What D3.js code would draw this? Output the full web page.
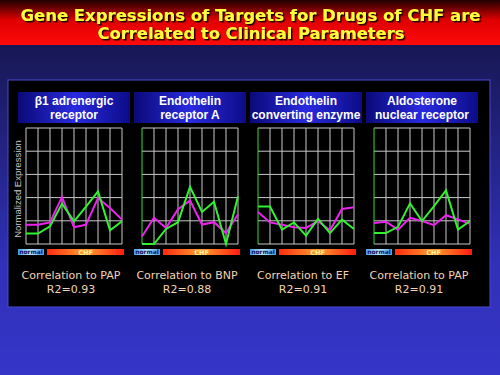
<!DOCTYPE html>
<html>
<head>
<meta charset="utf-8">
<script src="https://cdn.jsdelivr.net/npm/d3@7"></script>
<style>
  body { margin: 0; background: #000; }
  svg { display: block; }
</style>
</head>
<body>
<div id="chart"></div>
<script>
// chart values
const samples = ["N1", "N2", "C1", "C2", "C3", "C4", "C5", "C6", "C7"];
const titleLines1 = ["β1 adrenergic", "Endothelin", "Endothelin", "Aldosterone"];
const titleLines2 = ["receptor", "receptor A", "converting enzyme", "nuclear receptor"];
const magentaSeries = [
    [0.83, 0.83, 0.93, 2.03, 0.72, 0.83, 1.98, 1.55, 1.05],
    [0.32, 1.13, 0.69, 1.50, 1.87, 0.84, 0.94, 0.47, 1.28],
    [1.38, 0.93, 0.83, 0.72, 0.69, 0.98, 0.59, 1.51, 1.58],
    [0.91, 0.96, 0.62, 1.13, 0.99, 0.81, 1.24, 1.06, 0.87]
];
const greenSeries = [
    [0.45, 0.45, 0.76, 1.74, 0.98, 1.61, 2.27, 0.59, 0.98],
    [0.00, 0.00, 0.65, 0.94, 2.46, 1.38, 1.82, 0.00, 2.06],
    [1.62, 1.62, 0.62, 0.93, 0.36, 1.08, 0.47, 1.05, 0.65],
    [0.47, 0.47, 0.74, 1.75, 0.99, 1.63, 2.31, 0.62, 0.99]
];
const correlatedTo = ["PAP", "BNP", "EF", "PAP"];
const r2Values = ["0.93", "0.88", "0.91", "0.91"];
const yTicks = [0, 1, 2, 3, 4, 5];

const W = 500, H = 375;
const svg = d3.select("#chart").append("svg").attr("width", W).attr("height", H);
const defs = svg.append("defs");

// background gradients
const bg = defs.append("linearGradient").attr("id", "bg").attr("x1", 0).attr("y1", 0).attr("x2", 0).attr("y2", 1);
bg.append("stop").attr("offset", 0).attr("stop-color", "#121240");
bg.append("stop").attr("offset", 0.7).attr("stop-color", "#3030b8");
bg.append("stop").attr("offset", 1).attr("stop-color", "#3535c8");

const red = defs.append("linearGradient").attr("id", "red").attr("x1", 0).attr("y1", 0).attr("x2", 0).attr("y2", 1);
red.append("stop").attr("offset", 0).attr("stop-color", "#200000");
red.append("stop").attr("offset", 0.45).attr("stop-color", "#e00000");
red.append("stop").attr("offset", 1).attr("stop-color", "#ff0a0a");

const boxG = defs.append("linearGradient").attr("id", "box").attr("x1", 0).attr("y1", 0).attr("x2", 1).attr("y2", 0);
boxG.append("stop").attr("offset", 0).attr("stop-color", "#0a0a78");
boxG.append("stop").attr("offset", 0.5).attr("stop-color", "#2a2ae0");
boxG.append("stop").attr("offset", 1).attr("stop-color", "#0c0c88");

const chf = defs.append("linearGradient").attr("id", "chf").attr("x1", 0).attr("y1", 0).attr("x2", 1).attr("y2", 0);
chf.append("stop").attr("offset", 0).attr("stop-color", "#ff2a10");
chf.append("stop").attr("offset", 0.5).attr("stop-color", "#ffa030");
chf.append("stop").attr("offset", 1).attr("stop-color", "#ff1a10");

const norm = defs.append("linearGradient").attr("id", "norm").attr("x1", 0).attr("y1", 0).attr("x2", 1).attr("y2", 0);
norm.append("stop").attr("offset", 0).attr("stop-color", "#4aa0e0");
norm.append("stop").attr("offset", 0.5).attr("stop-color", "#b8e4ff");
norm.append("stop").attr("offset", 1).attr("stop-color", "#4aa0e0");

const shadow = defs.append("filter").attr("id", "shadow").attr("x", -0.1).attr("y", -0.3).attr("width", 1.2).attr("height", 1.6);
shadow.append("feDropShadow").attr("dx", 1.5).attr("dy", 1.5).attr("stdDeviation", 0.6)
    .attr("flood-color", "#000").attr("flood-opacity", 0.9);

svg.append("rect").attr("width", W).attr("height", H).attr("fill", "url(#bg)");
svg.append("rect").attr("width", W).attr("height", 45).attr("fill", "url(#red)");

// slide title
const title = svg.append("g").attr("filter", "url(#shadow)")
    .attr("font-family", "'DejaVu Sans', Verdana, sans-serif")
    .attr("font-weight", "bold").attr("font-size", 16).attr("fill", "#ffff3a")
    .attr("text-anchor", "middle");
title.append("text").attr("x", 250.5).attr("y", 20.5)
    .attr("textLength", 460).attr("lengthAdjust", "spacingAndGlyphs")
    .text("Gene Expressions of Targets for Drugs of CHF are");
title.append("text").attr("x", 251).attr("y", 39)
    .attr("textLength", 307).attr("lengthAdjust", "spacingAndGlyphs")
    .text("Correlated to Clinical Parameters");

// black panel
svg.append("rect").attr("x", 8).attr("y", 80).attr("width", 482).attr("height", 227)
    .attr("fill", "#000").attr("stroke", "#4848d0").attr("stroke-width", 1);

// y label
svg.append("text")
    .attr("transform", "translate(21,189) rotate(-90)")
    .attr("text-anchor", "middle")
    .attr("font-family", "'Liberation Sans', Arial, sans-serif")
    .attr("font-size", 9.5).attr("fill", "#c8c8c8")
    .text("Normalized Expression");

const plotW = 96, plotTop = 128, plotBottom = 244;
const lefts = [26, 142, 258, 374];

const y = d3.scaleLinear().domain([0, 5]).range([plotBottom, plotTop]);

lefts.forEach((left, i) => {
    const x = d3.scalePoint().domain(samples).range([left, left + plotW]);
    const cx = left + plotW / 2;
    const g = svg.append("g");

    // title box
    g.append("rect").attr("x", cx - 56).attr("y", 92).attr("width", 112).attr("height", 31)
        .attr("fill", "url(#box)");
    const tt = g.append("text").attr("text-anchor", "middle")
        .attr("font-family", "'Liberation Sans', Arial, sans-serif")
        .attr("font-weight", "bold").attr("font-size", 12).attr("fill", "#fff");
    tt.append("tspan").attr("x", cx).attr("y", 105).text(titleLines1[i]);
    tt.append("tspan").attr("x", cx).attr("y", 118.5).text(titleLines2[i]);

    // grid
    g.selectAll("line.h").data(yTicks).join("line").attr("class", "h")
        .attr("x1", left).attr("x2", left + plotW)
        .attr("y1", d => y(d)).attr("y2", d => y(d))
        .attr("stroke", "#c8c8c8").attr("stroke-width", 1);
    g.selectAll("line.v").data(samples).join("line").attr("class", "v")
        .attr("x1", d => x(d)).attr("x2", d => x(d))
        .attr("y1", plotTop).attr("y2", plotBottom)
        .attr("stroke", (d, j) => (j === 0 && i > 0) ? "#30e030" : "#c8c8c8")
        .attr("stroke-width", 1);

    const line = d3.line().x((d, j) => x(samples[j])).y(d => y(d));
    g.append("path").datum(magentaSeries[i]).attr("d", line)
        .attr("fill", "none").attr("stroke", "#ee22ee").attr("stroke-width", 2)
        .attr("stroke-linejoin", "miter");
    g.append("path").datum(greenSeries[i]).attr("d", line)
        .attr("fill", "none").attr("stroke", "#33f033").attr("stroke-width", 2)
        .attr("stroke-linejoin", "miter");

    // sample group bars
    g.append("rect").attr("x", left - 8).attr("y", 249).attr("width", 26).attr("height", 6)
        .attr("fill", "url(#norm)");
    g.append("text").attr("x", left + 5).attr("y", 254.3).attr("text-anchor", "middle")
        .attr("font-family", "'DejaVu Sans', sans-serif").attr("font-weight", "bold")
        .attr("font-size", 6).attr("fill", "#101060").text("normal");
    g.append("rect").attr("x", left + 21).attr("y", 249).attr("width", 77).attr("height", 6)
        .attr("fill", "url(#chf)");
    g.append("text").attr("x", left + 59.5).attr("y", 254.5).attr("text-anchor", "middle")
        .attr("font-family", "'DejaVu Sans', sans-serif").attr("font-weight", "bold")
        .attr("font-size", 6.5).attr("fill", "#fff0a0").text("CHF");

    // correlation text
    const ct = g.append("text").attr("text-anchor", "middle")
        .attr("font-family", "'DejaVu Sans', Verdana, sans-serif")
        .attr("font-size", 11).attr("fill", "#f2d4b4");
    ct.append("tspan").attr("x", cx - 3).attr("y", 279).text(`Correlation to ${correlatedTo[i]}`);
    ct.append("tspan").attr("x", cx - 3).attr("y", 293).text(`R2=${r2Values[i]}`);
});
</script>
</body>
</html>
